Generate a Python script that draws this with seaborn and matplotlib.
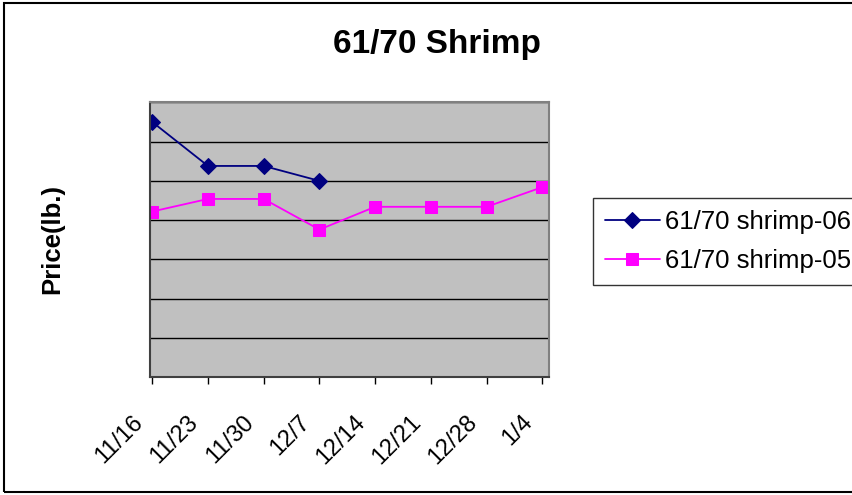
import matplotlib
matplotlib.use("Agg")
import matplotlib.pyplot as plt
import matplotlib.transforms as mtransforms
import seaborn as sns
import pandas as pd
from matplotlib.patches import Rectangle

# Data
dates = ["11/16", "11/23", "11/30", "12/7", "12/14", "12/21", "12/28", "1/4"]
shrimp_06 = [3.25, 2.69, 2.69, 2.50]
shrimp_05 = [2.11, 2.27, 2.27, 1.88, 2.17, 2.17, 2.17, 2.42]
series_names = ["61/70 shrimp-06", "61/70 shrimp-05"]
colors = ["#000080", "#FF00FF"]

sns.set_theme(style="white")
plt.rcParams['font.family'] = ['Liberation Sans', 'DejaVu Sans']
plt.rcParams['text.color'] = 'black'
plt.rcParams['axes.labelcolor'] = 'black'
plt.rcParams['xtick.color'] = 'black'
plt.rcParams['ytick.color'] = 'black'

fig = plt.figure(figsize=(8.52, 4.95), dpi=100)
ax = fig.add_axes([150/852, (495-377.3)/495, (549-150)/852, (377.3-102.3)/495])
ax.set_facecolor("#C0C0C0")

df06 = pd.DataFrame({"x": range(len(shrimp_06)), "y": shrimp_06})
df05 = pd.DataFrame({"x": range(len(shrimp_05)), "y": shrimp_05})

sns.lineplot(data=df06, x="x", y="y", ax=ax, color=colors[0], marker="D",
             markersize=8, markeredgecolor=colors[0], linewidth=1.3,
             label=series_names[0], legend=False)
sns.lineplot(data=df05, x="x", y="y", ax=ax, color=colors[1], marker="s",
             markersize=8, markeredgecolor=colors[1], linewidth=1.3,
             label=series_names[1], legend=False)

ax.set_ylim(0, 3.5)
ax.set_yticks([0.5 * i for i in range(8)])
ax.set_yticklabels([])
ax.yaxis.grid(True, color="black", linewidth=1)
ax.xaxis.grid(False)
ax.set_axisbelow(True)
ax.set_xlim(-0.04, 7.12)
ax.set_xticks(range(len(dates)))
ax.set_xticklabels(dates, rotation=45, ha="right", va="center",
                   rotation_mode="anchor", fontsize=17)
ax.tick_params(axis="x", length=5, width=1, color="black", direction="out", pad=25, bottom=True)
ax.tick_params(axis="y", length=0)
offset = mtransforms.ScaledTranslation(-13/100, 0, fig.dpi_scale_trans)
for lbl in ax.get_xticklabels():
    lbl.set_transform(lbl.get_transform() + offset)
ax.set_xlabel("")
ax.set_ylabel("")
fig.text(52/852, 1 - 239/495, "Price(lb.)", rotation=90, ha="center", va="center",
         fontsize=18.5, fontweight="bold")
for s in ["top", "right"]:
    ax.spines[s].set_color("#808080")
    ax.spines[s].set_linewidth(1.5)
for s in ["left", "bottom"]:
    ax.spines[s].set_color("#404040")
    ax.spines[s].set_linewidth(1.5)

fig.text(437/852, 1 - 53/495, "61/70 Shrimp", ha="center", va="baseline",
         fontsize=24, fontweight="bold")

handles, labels = ax.get_legend_handles_labels()
leg = fig.legend(handles, labels, loc="upper left", bbox_to_anchor=(593/852, 1 - 198/495),
                 fontsize=18.5, frameon=True, fancybox=False, borderpad=0.45,
                 handlelength=2.15, handletextpad=0.2, labelspacing=0.6, borderaxespad=0)
leg.get_frame().set_edgecolor("black")
leg.get_frame().set_linewidth(1)

fig.patches.append(Rectangle((4/852, 3/495), 1.0, 1 - 6/495, transform=fig.transFigure,
                             fill=False, edgecolor="black", linewidth=1.5))

fig.savefig("out.png", dpi=100)
